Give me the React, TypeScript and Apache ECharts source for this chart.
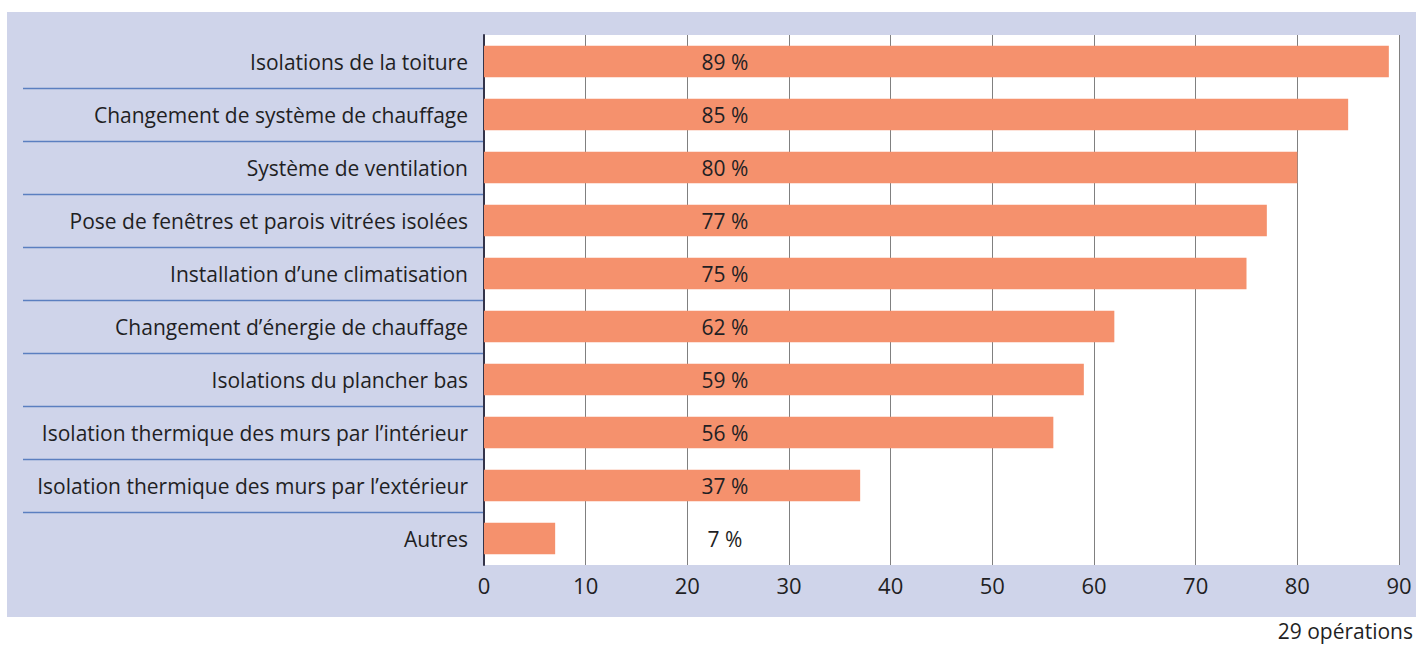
import React, { useEffect, useRef } from "react";
import * as echarts from "echarts";

// Travaux réalisés, part des opérations (en %)
const categories = [
  "Isolations de la toiture",
  "Changement de système de chauffage",
  "Système de ventilation",
  "Pose de fenêtres et parois vitrées isolées",
  "Installation d’une climatisation",
  "Changement d’énergie de chauffage",
  "Isolations du plancher bas",
  "Isolation thermique des murs par l’intérieur",
  "Isolation thermique des murs par l’extérieur",
  "Autres",
];
const values = [89, 85, 80, 77, 75, 62, 59, 56, 37, 7];
const xTicks = { min: 0, max: 90, interval: 10 };
const footnote = "29 opérations";

const FONT = "'Open Sans', 'Noto Sans', sans-serif";
const LAVENDER = "#cfd4ea";
const TEXT = "#1f1f24";

export default function App() {
  const ref = useRef<HTMLDivElement>(null);

  useEffect(() => {
    if (!ref.current) return;
    const chart = echarts.init(ref.current, null, { renderer: "svg" });
    chart.setOption({
      animation: false,
      textStyle: { fontFamily: FONT },
      grid: {
        left: 484,
        top: 35,
        right: 17,
        bottom: 81,
        show: true,
        backgroundColor: "#ffffff",
        borderWidth: 0,
      },
      xAxis: {
        type: "value",
        min: xTicks.min,
        max: xTicks.max,
        interval: xTicks.interval,
        axisLine: { show: false },
        axisTick: { show: false },
        axisLabel: { color: TEXT, fontSize: 22, margin: 9, fontFamily: FONT },
        splitLine: { show: true, lineStyle: { color: "#808080", width: 1 } },
      },
      yAxis: {
        type: "category",
        data: categories,
        inverse: true,
        axisLine: { show: true, lineStyle: { color: "#34344a", width: 2 } },
        axisTick: { show: false },
        axisLabel: { color: TEXT, fontSize: 21, margin: 16, fontFamily: FONT },
        splitLine: { show: false },
      },
      series: [
        {
          type: "bar",
          data: values,
          barCategoryGap: "41%",
          itemStyle: { color: "#f5916d" },
          label: {
            show: true,
            position: [241, "50%"],
            align: "center",
            verticalAlign: "middle",
            color: TEXT,
            fontSize: 21,
            fontFamily: FONT,
            formatter: (p: any) => `${p.value} %`,
          },
        },
      ],
    });

    // Blue separators between the category rows, in the label column
    const centers = categories.map((c) => chart.convertToPixel({ yAxisIndex: 0 }, c) as number);
    const lines = [];
    for (let i = 0; i < centers.length - 1; i++) {
      const y = Math.round((centers[i] + centers[i + 1]) / 2) + 0.5;
      lines.push({
        type: "line",
        shape: { x1: 23, y1: y, x2: 483, y2: y },
        style: { stroke: "#5b7fc0", lineWidth: 1.5 },
        silent: true,
      });
    }
    chart.setOption({
      graphic: [
        ...lines,
        {
          type: "text",
          x: 1413,
          y: 631,
          silent: true,
          style: {
            text: footnote,
            align: "right",
            verticalAlign: "middle",
            fill: TEXT,
            fontSize: 21,
            fontFamily: FONT,
          },
        },
      ],
    });

    return () => chart.dispose();
  }, []);

  return (
    <div style={{ position: "fixed", left: 0, top: 0, width: 1416, height: 646, background: "#ffffff" }}>
      <div style={{ position: "absolute", left: 7, top: 12, width: 1409, height: 605, background: LAVENDER }} />
      <div ref={ref} style={{ position: "absolute", left: 0, top: 0, width: 1416, height: 646 }} />
    </div>
  );
}
